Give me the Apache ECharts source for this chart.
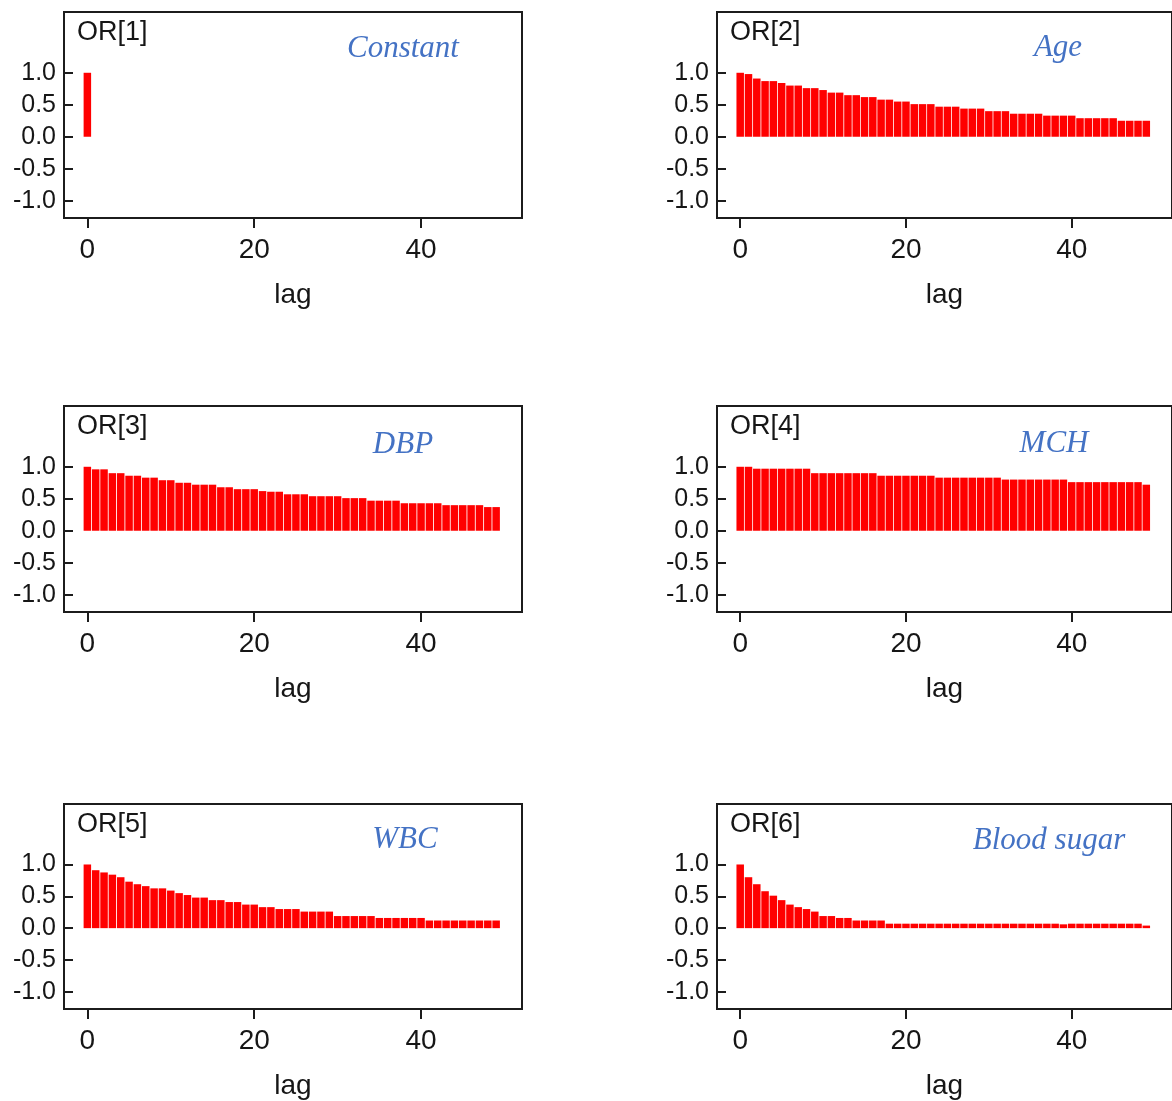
<!DOCTYPE html>
<html>
<head>
<meta charset="utf-8">
<title>OR autocorrelation</title>
<script src="https://cdn.jsdelivr.net/npm/echarts@6/dist/echarts.min.js"></script>
<style>
  html, body { margin: 0; padding: 0; background: #fff; }
  #main { width: 1172px; height: 1101px; }
</style>
</head>
<body>
<div id="main"></div>
<script>
// 自相关图：6 个参数，lag 0..49

// ---- 数据 ----
const lags = [0, 1, 2, 3, 4, 5, 6, 7, 8, 9, 10, 11, 12, 13, 14, 15, 16, 17, 18, 19,
  20, 21, 22, 23, 24, 25, 26, 27, 28, 29, 30, 31, 32, 33, 34, 35, 36, 37, 38, 39,
  40, 41, 42, 43, 44, 45, 46, 47, 48, 49];

const acfConstant = [1.0];
const acfAge = [1.0, 0.98, 0.91, 0.87, 0.87, 0.84, 0.80, 0.80, 0.76, 0.76,
  0.73, 0.69, 0.69, 0.65, 0.65, 0.62, 0.62, 0.58, 0.58, 0.55,
  0.55, 0.51, 0.51, 0.51, 0.47, 0.47, 0.47, 0.44, 0.44, 0.44,
  0.40, 0.40, 0.40, 0.36, 0.36, 0.36, 0.36, 0.33, 0.33, 0.33,
  0.33, 0.29, 0.29, 0.29, 0.29, 0.29, 0.25, 0.25, 0.25, 0.25];
const acfDBP = [1.0, 0.96, 0.96, 0.90, 0.90, 0.86, 0.86, 0.83, 0.83, 0.79,
  0.79, 0.75, 0.75, 0.72, 0.72, 0.72, 0.68, 0.68, 0.65, 0.65,
  0.65, 0.62, 0.61, 0.61, 0.57, 0.57, 0.57, 0.54, 0.54, 0.54,
  0.54, 0.51, 0.51, 0.51, 0.47, 0.47, 0.47, 0.47, 0.43, 0.43,
  0.43, 0.43, 0.43, 0.40, 0.40, 0.40, 0.40, 0.40, 0.37, 0.37];
const acfMCH = [1.0, 1.0, 0.97, 0.97, 0.97, 0.97, 0.97, 0.97, 0.97, 0.90,
  0.90, 0.90, 0.90, 0.90, 0.90, 0.90, 0.90, 0.86, 0.86, 0.86,
  0.86, 0.86, 0.86, 0.86, 0.83, 0.83, 0.83, 0.83, 0.83, 0.83,
  0.83, 0.83, 0.80, 0.80, 0.80, 0.80, 0.80, 0.80, 0.80, 0.80,
  0.76, 0.76, 0.76, 0.76, 0.76, 0.76, 0.76, 0.76, 0.76, 0.72];
const acfWBC = [1.0, 0.91, 0.875, 0.84, 0.80, 0.73, 0.69, 0.66, 0.625, 0.625,
  0.59, 0.55, 0.52, 0.48, 0.48, 0.44, 0.44, 0.41, 0.41, 0.37,
  0.37, 0.33, 0.33, 0.30, 0.30, 0.30, 0.26, 0.26, 0.26, 0.26,
  0.19, 0.19, 0.19, 0.19, 0.19, 0.16, 0.16, 0.16, 0.16, 0.16,
  0.16, 0.12, 0.12, 0.12, 0.12, 0.12, 0.12, 0.12, 0.12, 0.12];
const acfBloodSugar = [1.0, 0.80, 0.69, 0.58, 0.51, 0.44, 0.37, 0.33, 0.30, 0.26,
  0.19, 0.19, 0.16, 0.16, 0.12, 0.12, 0.12, 0.12, 0.07, 0.07,
  0.07, 0.07, 0.07, 0.07, 0.07, 0.07, 0.07, 0.07, 0.07, 0.07,
  0.07, 0.07, 0.07, 0.07, 0.07, 0.07, 0.07, 0.07, 0.07, 0.06,
  0.07, 0.07, 0.07, 0.07, 0.07, 0.07, 0.07, 0.07, 0.07, 0.04];

const panelTitles = ['OR[1]', 'OR[2]', 'OR[3]', 'OR[4]', 'OR[5]', 'OR[6]'];
const panelNames = ['Constant', 'Age', 'DBP', 'MCH', 'WBC', 'Blood sugar'];
const panelValues = [acfConstant, acfAge, acfDBP, acfMCH, acfWBC, acfBloodSugar];
const xTicks = [0, 20, 40];
const yTicks = [-1, -0.5, 0, 0.5, 1];

// ---- 布局 ----
const colLeft = [64, 717];
const rowTop = [12, 406, 804];
const GW = 458, GH = 206;
// 蓝色斜体标签中心位置
const nameCenter = [[403, 49], [1058, 48], [403, 445], [1054, 444], [405, 840], [1049, 841]];

const txt = '#161616';
const sans = '"Liberation Sans", Arial, sans-serif';

const grids = [], xAxes = [], yAxes = [], series = [], graphics = [];

panelValues.forEach((vals, i) => {
  const col = i % 2, row = Math.floor(i / 2);
  grids.push({
    left: colLeft[col], top: rowTop[row], width: GW, height: GH,
    show: true, borderColor: '#1c1c1c', borderWidth: 2, backgroundColor: '#fff'
  });
  xAxes.push({
    gridIndex: i, type: 'value', min: -2.8, max: 52.1,
    name: 'lag', nameLocation: 'middle', nameGap: 63,
    nameTextStyle: { fontFamily: sans, fontSize: 28, color: txt },
    axisLine: { show: false, onZero: false },
    axisTick: { show: true, inside: false, length: 10, customValues: xTicks, lineStyle: { color: '#1c1c1c', width: 2 } },
    axisLabel: { customValues: xTicks, margin: 18, fontFamily: sans, fontSize: 28, color: txt },
    splitLine: { show: false }
  });
  yAxes.push({
    gridIndex: i, type: 'value', min: -1.27, max: 1.95,
    axisLine: { show: false, onZero: false },
    axisTick: { show: true, inside: true, length: 9, customValues: yTicks, lineStyle: { color: '#1c1c1c', width: 2 } },
    axisLabel: {
      customValues: yTicks, margin: 8, fontFamily: sans, fontSize: 25, color: txt,
      padding: [5, 0, 0, 0],
      formatter: (v) => v.toFixed(1)
    },
    splitLine: { show: false }
  });
  series.push({
    type: 'bar', xAxisIndex: i, yAxisIndex: i,
    data: vals.map((v, k) => [lags[k], v]),
    barWidth: 7.5,
    itemStyle: { color: '#ff0000' },
    silent: true, animation: false
  });
  graphics.push({
    type: 'text',
    x: colLeft[col] + 13, y: rowTop[row] + 21,
    style: { text: panelTitles[i], font: '27px ' + sans, fill: txt, textVerticalAlign: 'middle' }
  });
  graphics.push({
    type: 'text',
    x: nameCenter[i][0], y: nameCenter[i][1],
    style: {
      text: panelNames[i], font: 'italic 31px "Liberation Serif", "Times New Roman", serif',
      fill: '#4472c4', textAlign: 'center', textVerticalAlign: 'middle'
    }
  });
});

const chart = echarts.init(document.getElementById('main'));
chart.setOption({
  animation: false,
  backgroundColor: '#fff',
  grid: grids,
  xAxis: xAxes,
  yAxis: yAxes,
  series: series,
  graphic: graphics
});
window.addEventListener('resize', () => chart.resize());
</script>
</body>
</html>
